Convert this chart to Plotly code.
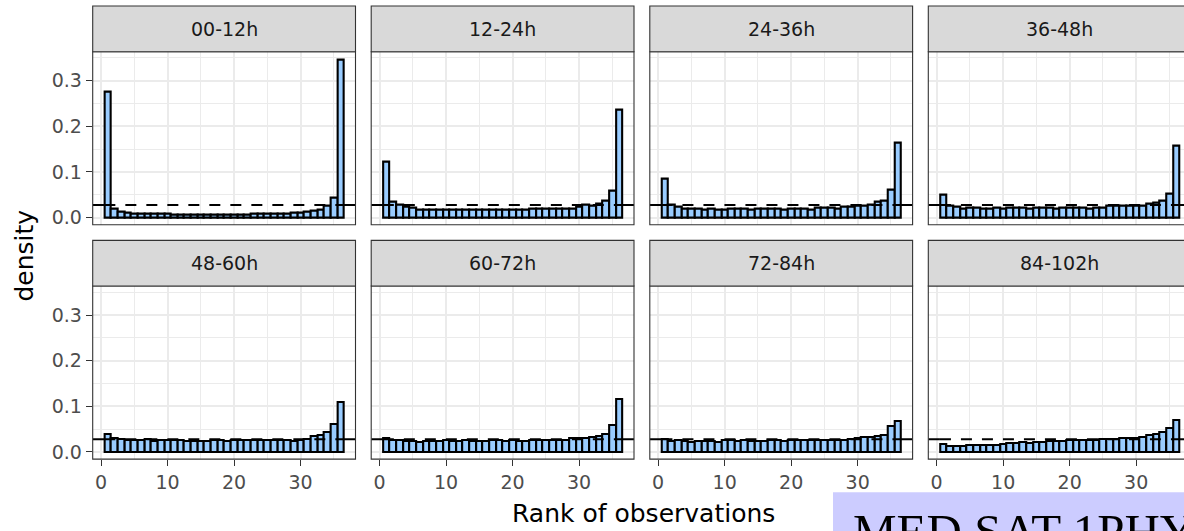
import plotly.graph_objects as go

W, H = 1184, 531

# ---------------- data ----------------
panel_titles = ["00-12h", "12-24h", "24-36h", "36-48h",
                "48-60h", "60-72h", "72-84h", "84-102h"]
ranks = list(range(1, 37))

dens_00_12 = [0.275, 0.020, 0.012, 0.010, 0.009, 0.009, 0.008, 0.008, 0.008, 0.008,
              0.007, 0.007, 0.007, 0.007, 0.006, 0.006, 0.007, 0.007, 0.007, 0.007,
              0.007, 0.007, 0.008, 0.008, 0.008, 0.008, 0.009, 0.009, 0.010, 0.010,
              0.013, 0.014, 0.018, 0.026, 0.043, 0.347]
dens_12_24 = [0.122, 0.034, 0.028, 0.024, 0.021, 0.018, 0.017, 0.017, 0.017, 0.017,
              0.017, 0.018, 0.017, 0.017, 0.017, 0.018, 0.017, 0.018, 0.018, 0.017,
              0.018, 0.018, 0.019, 0.020, 0.019, 0.020, 0.019, 0.020, 0.019, 0.024,
              0.028, 0.026, 0.031, 0.036, 0.058, 0.237]
dens_24_36 = [0.085, 0.028, 0.024, 0.020, 0.020, 0.019, 0.018, 0.019, 0.018, 0.018,
              0.019, 0.020, 0.019, 0.017, 0.019, 0.020, 0.019, 0.019, 0.018, 0.019,
              0.019, 0.019, 0.018, 0.021, 0.022, 0.021, 0.019, 0.024, 0.023, 0.025,
              0.027, 0.028, 0.035, 0.038, 0.062, 0.164]
dens_36_48 = [0.050, 0.027, 0.024, 0.020, 0.022, 0.021, 0.020, 0.020, 0.021, 0.019,
              0.021, 0.022, 0.021, 0.020, 0.021, 0.022, 0.022, 0.020, 0.021, 0.022,
              0.021, 0.022, 0.020, 0.022, 0.021, 0.025, 0.026, 0.025, 0.026, 0.026,
              0.027, 0.031, 0.032, 0.038, 0.053, 0.158]
dens_48_60 = [0.040, 0.031, 0.029, 0.027, 0.026, 0.026, 0.028, 0.024, 0.025, 0.025,
              0.026, 0.025, 0.024, 0.024, 0.024, 0.023, 0.026, 0.025, 0.024, 0.025,
              0.026, 0.025, 0.025, 0.027, 0.026, 0.025, 0.027, 0.026, 0.024, 0.027,
              0.028, 0.034, 0.038, 0.044, 0.061, 0.110]
dens_60_72 = [0.031, 0.026, 0.025, 0.024, 0.023, 0.022, 0.024, 0.023, 0.024, 0.026,
              0.024, 0.024, 0.025, 0.024, 0.023, 0.024, 0.026, 0.025, 0.024, 0.025,
              0.024, 0.024, 0.025, 0.026, 0.025, 0.025, 0.026, 0.026, 0.030, 0.031,
              0.031, 0.032, 0.034, 0.040, 0.060, 0.115]
dens_72_84 = [0.028, 0.024, 0.026, 0.024, 0.021, 0.023, 0.024, 0.024, 0.022, 0.025,
              0.025, 0.024, 0.025, 0.024, 0.023, 0.024, 0.026, 0.025, 0.024, 0.025,
              0.025, 0.025, 0.026, 0.026, 0.026, 0.025, 0.026, 0.027, 0.028, 0.030,
              0.032, 0.033, 0.034, 0.037, 0.057, 0.068]
dens_84_102 = [0.017, 0.012, 0.013, 0.013, 0.014, 0.014, 0.015, 0.015, 0.016, 0.018,
               0.019, 0.019, 0.021, 0.020, 0.022, 0.022, 0.024, 0.023, 0.024, 0.025,
               0.025, 0.026, 0.026, 0.027, 0.028, 0.029, 0.029, 0.030, 0.030, 0.030,
               0.033, 0.036, 0.040, 0.044, 0.052, 0.069]

series = [dens_00_12, dens_12_24, dens_24_36, dens_36_48,
          dens_48_60, dens_60_72, dens_72_84, dens_84_102]

x_tick_vals = [0, 10, 20, 30]
x_minor_vals = [5, 15, 25, 35]
y_tick_vals = [0.0, 0.1, 0.2, 0.3]
y_tick_text = ["0.0", "0.1", "0.2", "0.3"]
y_minor_vals = [0.05, 0.15, 0.25, 0.35]
uniform_level = 1 / 36

x_title = "Rank of observations"
y_title = "density"
overlay_text = "MED SAT 1PHY"

# ---------------- layout geometry (pixels) ----------------
col_left = [92.7, 371.2, 649.8, 928.3]
panel_w = 262.8
strip_top = [6.0, 241.7]
strip_h = 46.0
panel_h = 174.0
X_RANGE = [-1.25, 38.25]
Y_RANGE = [-0.0157, 0.3637]
ppu = panel_w / (X_RANGE[1] - X_RANGE[0])

FONT = "DejaVu Sans"
GRID = "#ebebeb"
BORDER = "#333333"
FILL = "#99CCFF"


def fx(px):
    return px / W


def fy(py):
    return 1 - py / H


fig = go.Figure()
shapes = []
annotations = []
layout_axes = {}

for i, (title, vals) in enumerate(zip(panel_titles, series)):
    r, c = divmod(i, 4)
    n = i + 1
    xa = "x" if n == 1 else f"x{n}"
    ya = "y" if n == 1 else f"y{n}"
    left = col_left[c]
    right = left + panel_w
    top = strip_top[r] + strip_h
    bottom = top + panel_h

    vis_right = min(right, W)
    x_hi = X_RANGE[0] + (vis_right - left) / ppu
    xr = [X_RANGE[0], x_hi]

    fig.add_trace(go.Bar(
        x=ranks, y=vals, width=1.0,
        marker=dict(color=FILL, line=dict(color="black", width=2.1)),
        xaxis=xa, yaxis=ya, showlegend=False, hoverinfo="skip"))

    # reference line: solid outside the bars, dashed across them
    fig.add_trace(go.Scatter(
        x=[X_RANGE[0], ranks[0] - 0.5], y=[uniform_level] * 2, mode="lines",
        line=dict(color="black", width=2.0), xaxis=xa, yaxis=ya,
        showlegend=False, hoverinfo="skip"))
    fig.add_trace(go.Scatter(
        x=[ranks[-1] + 0.5, X_RANGE[1]], y=[uniform_level] * 2, mode="lines",
        line=dict(color="black", width=2.0), xaxis=xa, yaxis=ya,
        showlegend=False, hoverinfo="skip"))
    fig.add_trace(go.Scatter(
        x=[ranks[0] - 0.5, ranks[-1] + 0.5], y=[uniform_level] * 2, mode="lines",
        line=dict(color="black", width=2.0, dash="11px,10px"), xaxis=xa, yaxis=ya,
        showlegend=False, hoverinfo="skip"))

    key_x = "xaxis" if n == 1 else f"xaxis{n}"
    key_y = "yaxis" if n == 1 else f"yaxis{n}"
    layout_axes[key_x] = dict(
        domain=[fx(left), min(1.0, fx(right))], range=xr, anchor=ya,
        tickmode="array", tickvals=x_tick_vals,
        showticklabels=(r == 1), ticks="outside" if r == 1 else "",
        ticklen=6, tickwidth=1.1, tickcolor=BORDER,
        tickfont=dict(family=FONT, size=19, color="#4d4d4d"),
        showgrid=True, gridcolor=GRID, gridwidth=1.8,
        minor=dict(tickmode="array", tickvals=x_minor_vals, showgrid=True,
                   gridcolor=GRID, gridwidth=0.9),
        zeroline=False, showline=False, fixedrange=True)
    layout_axes[key_y] = dict(
        domain=[fy(bottom), fy(top)], range=Y_RANGE, anchor=xa,
        tickmode="array", tickvals=y_tick_vals, ticktext=y_tick_text,
        showticklabels=(c == 0), ticks="outside" if c == 0 else "",
        ticklen=6, tickwidth=1.1, tickcolor=BORDER,
        tickfont=dict(family=FONT, size=19, color="#4d4d4d"),
        showgrid=True, gridcolor=GRID, gridwidth=1.8,
        minor=dict(tickmode="array", tickvals=y_minor_vals, showgrid=True,
                   gridcolor=GRID, gridwidth=0.9),
        zeroline=False, showline=False, fixedrange=True)

    # panel border
    shapes.append(dict(type="rect", xref="paper", yref="paper",
                       x0=fx(left), x1=fx(right), y0=fy(bottom), y1=fy(top),
                       line=dict(color=BORDER, width=1.1),
                       fillcolor="rgba(0,0,0,0)", layer="above"))
    # strip
    shapes.append(dict(type="rect", xref="paper", yref="paper",
                       x0=fx(left), x1=fx(right), y0=fy(top), y1=fy(strip_top[r]),
                       line=dict(color=BORDER, width=1.1),
                       fillcolor="#d9d9d9", layer="above"))
    annotations.append(dict(text=title, xref="paper", yref="paper",
                            x=fx(left + panel_w / 2), y=fy(strip_top[r] + strip_h / 2),
                            xanchor="center", yanchor="middle", showarrow=False,
                            font=dict(family=FONT, size=19, color="#1a1a1a")))

# axis titles
annotations.append(dict(text=x_title, xref="paper", yref="paper",
                        x=fx(643), y=fy(516), xanchor="center", yanchor="middle",
                        showarrow=False, font=dict(family=FONT, size=25, color="black")))
annotations.append(dict(text=y_title, xref="paper", yref="paper",
                        x=fx(25), y=fy(257), xanchor="center", yanchor="middle",
                        textangle=-90, showarrow=False,
                        font=dict(family=FONT, size=25, color="black")))

# overlay label box (bottom right)
shapes.append(dict(type="rect", xref="paper", yref="paper",
                   x0=fx(833), x1=fx(1200), y0=fy(560), y1=fy(495),
                   line=dict(width=0), fillcolor="#ccccff", layer="above"))
annotations.append(dict(text=overlay_text, xref="paper", yref="paper",
                        x=fx(851), y=fy(505), xanchor="left", yanchor="top",
                        showarrow=False,
                        font=dict(family="Liberation Serif", size=49, color="black")))

fig.update_layout(
    width=W, height=H,
    margin=dict(l=0, r=0, t=0, b=0),
    paper_bgcolor="white", plot_bgcolor="white",
    bargap=0, showlegend=False,
    shapes=shapes, annotations=annotations,
    **layout_axes)

fig.write_html("out.html")
